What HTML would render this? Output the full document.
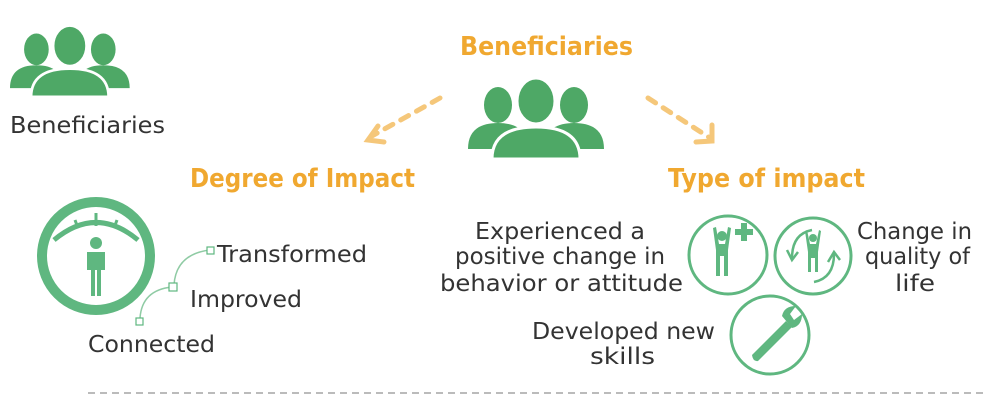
<!DOCTYPE html>
<html><head><meta charset="utf-8"><style>
body{margin:0;background:#fff;}
svg text{font-family:"DejaVu Sans","Liberation Sans",sans-serif;}
</style></head><body>
<svg width="1000" height="410" viewBox="0 0 1000 410" xmlns="http://www.w3.org/2000/svg">
<defs>
<g id="ppl">
  <ellipse cx="30" cy="22" rx="14" ry="18" fill="#4ea866"/>
  <path d="M0 66 Q0 40 30 40 Q60 40 60 66 Z" fill="#4ea866"/>
  <ellipse cx="106" cy="22" rx="14" ry="18" fill="#4ea866"/>
  <path d="M76 66 Q76 40 106 40 Q136 40 136 66 Z" fill="#4ea866"/>
  <ellipse cx="68" cy="18" rx="19" ry="23" fill="#4ea866" stroke="#fff" stroke-width="3"/>
  <path d="M24 76 Q24 44 68 44 Q112 44 112 76 Z" fill="#4ea866" stroke="#fff" stroke-width="3"/>
</g>
</defs>
<use href="#ppl" transform="translate(10,30) scale(0.88)"/>
<text x="10" y="133" font-size="23" fill="#333" textLength="155" lengthAdjust="spacingAndGlyphs">Beneficiaries</text>

<text x="460" y="55" font-size="26" font-weight="bold" fill="#f0a830" textLength="173" lengthAdjust="spacingAndGlyphs">Beneficiaries</text>
<use href="#ppl" transform="translate(468,83)"/>
<g stroke="#f5c77a" stroke-width="5" fill="none" stroke-linecap="round" stroke-dasharray="9 9">
<line x1="440" y1="98" x2="372" y2="136"/>
<line x1="648" y1="98" x2="710" y2="138"/>
</g>
<g stroke="#f5c77a" stroke-width="5" fill="none" stroke-linecap="round">
<path d="M378 126 L368 140 L384 142"/>
<path d="M712 125 L712 141 L696 142"/>
</g>
<text x="190" y="187" font-size="26" font-weight="bold" fill="#f0a830" textLength="225" lengthAdjust="spacingAndGlyphs">Degree of Impact</text>
<text x="668" y="187" font-size="26" font-weight="bold" fill="#f0a830" textLength="197" lengthAdjust="spacingAndGlyphs">Type of impact</text>

<!-- gauge -->
<circle cx="96" cy="256" r="54" fill="none" stroke="#5fb780" stroke-width="10"/>
<path d="M54 240 Q96 205 138 240" fill="none" stroke="#5fb780" stroke-width="5"/>
<g stroke="#5fb780" stroke-width="3"><line x1="96" y1="213" x2="96" y2="226"/><line x1="75" y1="220" x2="78" y2="228"/><line x1="117" y1="220" x2="114" y2="228"/></g>
<circle cx="96" cy="243" r="6" fill="#5fb780"/>
<path d="M87 252 H105 V270 H101 V296 H97 V270 H95 V296 H91 V270 H87 Z" fill="#5fb780"/>
<path d="M140 318 Q142 290 172 287 M174 285 Q176 254 210 250" fill="none" stroke="#8fcba4" stroke-width="1.5"/>
<rect x="136" y="318" width="7" height="7" fill="#fff" stroke="#5fb780" stroke-width="1.2"/>
<rect x="169" y="283" width="8" height="8" fill="#fff" stroke="#5fb780" stroke-width="1.2"/>
<rect x="207" y="247" width="7" height="7" fill="#fff" stroke="#5fb780" stroke-width="1.2"/>
<g font-size="23" fill="#333">
<text x="217" y="262" textLength="150" lengthAdjust="spacingAndGlyphs">Transformed</text>
<text x="190" y="307" textLength="112" lengthAdjust="spacingAndGlyphs">Improved</text>
<text x="88" y="352" textLength="127" lengthAdjust="spacingAndGlyphs">Connected</text>
</g>

<!-- type icons -->
<g fill="none" stroke="#5fb780" stroke-width="3">
<circle cx="728" cy="255" r="39"/>
<circle cx="813" cy="256" r="38"/>
<circle cx="770" cy="335" r="39"/>
</g>
<g fill="#5fb780">
<circle cx="722" cy="236" r="5"/>
<path d="M713 228 L716 227 L719 244 H725 L728 227 L731 228 L728 250 V276 H724 V256 H720 V276 H716 V250 Z"/>
<path d="M735 229 H741 V223 H747 V229 H753 V235 H747 V241 H741 V235 H735 Z"/>
<circle cx="813" cy="238" r="4"/>
<path d="M805 231 L807 230 L810 244 H816 L819 230 L821 231 L818 252 V272 H815 V258 H811 V272 H808 V252 Z"/>
<path d="M752 355 L786 321 L792 327 L758 361 Q753 362 752 355 Z"/>
<path d="M782 316 Q784 306 796 306 L790 314 L794 320 L802 314 Q802 326 792 328 Z"/>
</g>
<g fill="none" stroke="#5fb780" stroke-width="2.5">
<path d="M792 258 Q792 234 812 230"/><path d="M834 254 Q834 278 814 282"/>
<path d="M787 250 L792 260 L798 252"/><path d="M828 262 L834 252 L840 260"/>
</g>

<g font-size="23" fill="#333">
<text x="475" y="239" textLength="170" lengthAdjust="spacingAndGlyphs">Experienced a</text>
<text x="455" y="264" textLength="210" lengthAdjust="spacingAndGlyphs">positive change in</text>
<text x="440" y="291" textLength="243" lengthAdjust="spacingAndGlyphs">behavior or attitude</text>
<text x="857" y="239" textLength="115" lengthAdjust="spacingAndGlyphs">Change in</text>
<text x="865" y="264" textLength="105" lengthAdjust="spacingAndGlyphs">quality of</text>
<text x="895" y="291" textLength="40" lengthAdjust="spacingAndGlyphs">life</text>
<text x="532" y="339" textLength="183" lengthAdjust="spacingAndGlyphs">Developed new</text>
<text x="590" y="364" textLength="65" lengthAdjust="spacingAndGlyphs">skills</text>
</g>
<line x1="88" y1="393" x2="985" y2="393" stroke="#bbb" stroke-width="2" stroke-dasharray="7 5"/>
</svg>
</body></html>
